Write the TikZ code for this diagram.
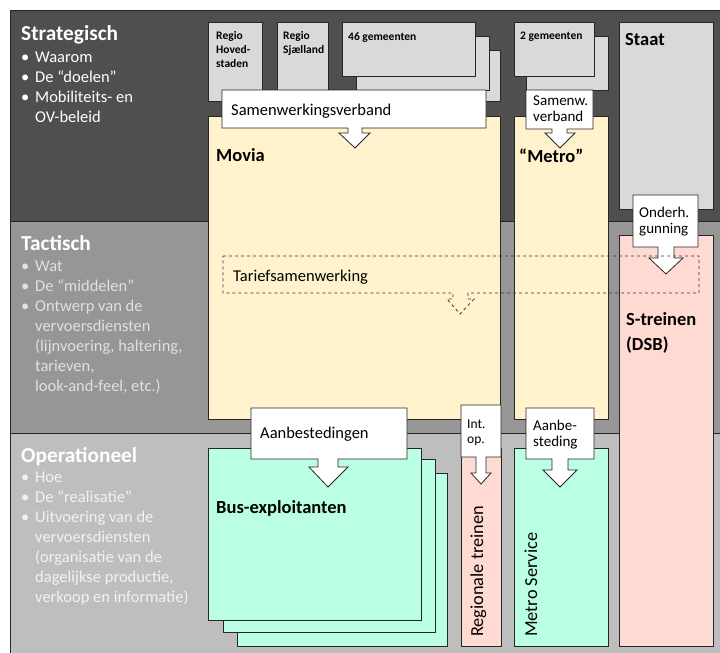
\documentclass[tikz,border=0pt]{standalone}
\usepackage{fontspec}
\setmainfont{Carlito}
\usepackage{xcolor}
\usepackage{tikz}
\usetikzlibrary{positioning}

\definecolor{stratgrey}{HTML}{4F4F4F}
\definecolor{tactgrey}{HTML}{969696}
\definecolor{opergrey}{HTML}{BEBEBE}
\definecolor{orggrey}{HTML}{D9D9D9}
\definecolor{regieyellow}{HTML}{FFF2CC}
\definecolor{treinpink}{HTML}{FFDAD2}
\definecolor{exploitmint}{HTML}{BAFFE4}

% lines stacked from the first baseline down
\newcommand{\stack}[1]{\begin{tabular}[t]{@{}l@{}}#1\end{tabular}}
\newcommand{\bul}{\makebox[14pt][l]{\textbullet}}
\newcommand{\hang}{\hspace*{14pt}}

\begin{document}
\begin{tikzpicture}[x=1pt, y=-1pt,
    band/.style={draw=black!85, line width=0.8pt},
    org/.style={draw=black!85, line width=0.8pt},
    callout/.style={draw=black!85, fill=white, line width=0.8pt},
    txt/.style={anchor=base west, inner sep=0pt, font=\fontsize{16.5}{20}\selectfont},
    small/.style={anchor=base west, inner sep=0pt, font=\fontsize{15}{16}\selectfont},
    tiny/.style={anchor=base west, inner sep=0pt, font=\bfseries\fontsize{11.5}{14}\selectfont},
    title/.style={anchor=base west, inner sep=0pt, text=white, font=\bfseries\fontsize{21.3}{24}\selectfont},
    head/.style={anchor=base west, inner sep=0pt, font=\bfseries\fontsize{18.5}{25}\selectfont},
    vert/.style={anchor=base west, inner sep=0pt, rotate=90, font=\fontsize{18.3}{20}\selectfont},
]
\useasboundingbox (0,0) rectangle (720,653);

% Layers
\draw[band, fill=stratgrey] (10,10) rectangle (724,221);
\draw[band, fill=tactgrey] (10,221) rectangle (724,433);
\draw[band, fill=opergrey] (10,433) rectangle (724,657);

% Layer texts
\node[title] (strat) at (21,40) {Strategisch};
\node[txt, text=white] (stratlist) at (21,62) {\stack{
  \bul Waarom\\
  \bul De “doelen”\\
  \bul Mobiliteits- en\\
  \hang OV-beleid}};
\node[title] (tact) at (21,250) {Tactisch};
\node[txt, text=white!88!black] (tactlist) at (21,271) {\stack{
  \bul Wat\\
  \bul De “middelen”\\
  \bul Ontwerp van de\\
  \hang vervoersdiensten\\
  \hang (lijnvoering, haltering,\\
  \hang tarieven,\\
  \hang look-and-feel, etc.)}};
\node[title] (oper) at (21,462) {Operationeel};
\node[txt, text=white!95!black] (operlist) at (21,482) {\stack{
  \bul Hoe\\
  \bul De “realisatie”\\
  \bul Uitvoering van de\\
  \hang vervoersdiensten\\
  \hang (organisatie van de\\
  \hang dagelijkse productie,\\
  \hang verkoop en informatie)}};

% Strategic owners
\draw[org, fill=orggrey] (208,22) rectangle (262,101);
\draw[org, fill=orggrey] (277,22) rectangle (328,101);
\draw[org, fill=orggrey] (370,50) rectangle (500,101);
\draw[org, fill=orggrey] (356,36) rectangle (489,90);
\draw[org, fill=orggrey] (342,22) rectangle (475,76);
\draw[org, fill=orggrey] (526,36) rectangle (608,90);
\draw[org, fill=orggrey] (514,22) rectangle (594,76);
\draw[org, fill=orggrey] (619,22) rectangle (713,209);

% Authorities
\draw[org, fill=regieyellow] (208,116) rectangle (500,419);
\draw[org, fill=regieyellow] (514,116) rectangle (608,419);

% Operators
\draw[org, fill=treinpink] (619,235) rectangle (713,646);
\draw[org, fill=exploitmint] (237,473) rectangle (447,646);
\draw[org, fill=exploitmint] (223,459) rectangle (435,632);
\draw[org, fill=exploitmint] (208,448) rectangle (421,620);
\draw[org, fill=treinpink] (461,448) rectangle (501,646);
\draw[org, fill=exploitmint] (514,448) rectangle (608,646);

% Callouts
\draw[callout] (222,90) -- (486,90) -- (486,128) -- (362,128) -- (362,133) -- (370,133)
  -- (355,148) -- (339,133) -- (348,133) -- (348,128) -- (222,128) -- cycle;
\draw[callout] (526,90) -- (593,90) -- (593,129) -- (567,129) -- (567,133) -- (575,133)
  -- (560,148) -- (545,133) -- (552,133) -- (552,129) -- (526,129) -- cycle;
\draw[callout] (633,195) -- (698,195) -- (698,247) -- (674,247) -- (674,258) -- (683,258)
  -- (666,274) -- (649,258) -- (658,258) -- (658,247) -- (633,247) -- cycle;
\draw[callout] (251,408) -- (407,408) -- (407,459) -- (338,459) -- (338,467) -- (348,467)
  -- (328,487) -- (309,467) -- (318,467) -- (318,459) -- (251,459) -- cycle;
\draw[callout] (461,405) -- (501,405) -- (501,457) -- (486,457) -- (486,473) -- (491,473)
  -- (481,484) -- (471,473) -- (476,473) -- (476,457) -- (461,457) -- cycle;
\draw[callout] (526,408) -- (594,408) -- (594,459) -- (568,459) -- (568,470) -- (577,470)
  -- (560,487) -- (543,470) -- (552,470) -- (552,459) -- (526,459) -- cycle;

% Fare cooperation
\draw[draw=black!80, line width=0.8pt, dashed] (223,256) -- (699,256) -- (699,293) -- (468,293)
  -- (468,299) -- (474,299) -- (460,314) -- (447,299) -- (453,299) -- (453,293) -- (223,293) -- cycle;

% Box labels
\node[tiny] (hoved) at (216,39) {\stack{Regio\\Hoved-\\staden}};
\node[tiny] (sjael) at (283,39) {\stack{Regio\\Sjælland}};
\node[tiny] (gem46) at (348,40) {46 gemeenten};
\node[tiny] (gem2) at (520,39) {2 gemeenten};
\node[head] (staat) at (625,45) {Staat};
\node[txt] (samenw) at (231,115) {Samenwerkingsverband};
\node[small] (samenwm) at (533,105) {\stack{Samenw.\\verband}};
\node[head] (movia) at (216,161) {Movia};
\node[head] (metro) at (519,162) {“Metro”};
\node[small] (onderh) at (639,217) {\stack{Onderh.\\gunning}};
\node[txt] (tarief) at (233,281) {Tariefsamenwerking};
\node[head] (streinen) at (626,325) {\stack{S-treinen\\(DSB)}};
\node[txt] (aanbest) at (260,438) {Aanbestedingen};
\node[small, font=\fontsize{13.5}{15}\selectfont] (intop) at (467,428) {\stack{Int.\\op.}};
\node[small] (aanbem) at (533,430) {\stack{Aanbe-\\steding}};
\node[head] (bus) at (216,513) {Bus-exploitanten};
\node[vert] (regtrein) at (483,637) {Regionale treinen};
\node[vert] (metroserv) at (537,637) {Metro Service};
\end{tikzpicture}
\end{document}
